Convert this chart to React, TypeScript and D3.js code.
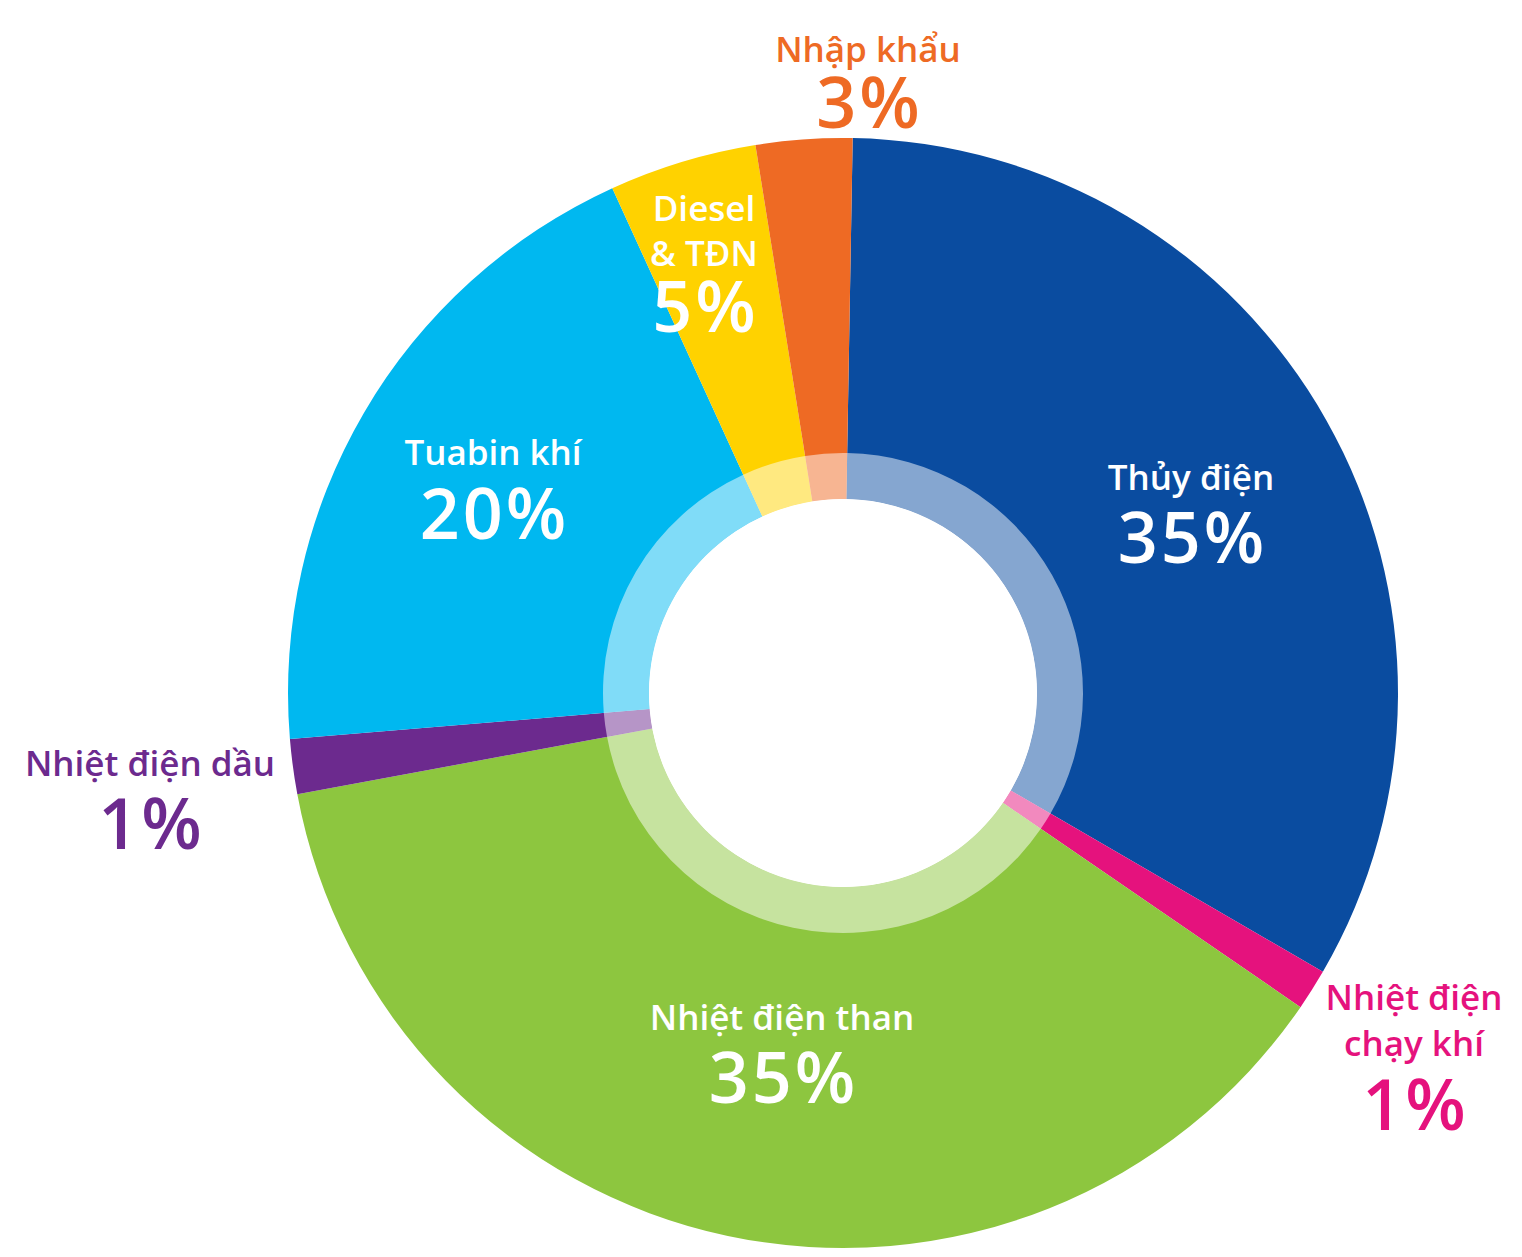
import React from "react";
import * as d3 from "d3";

// ---- Data ----
const categories = [
  "Thủy điện",
  "Nhiệt điện chạy khí",
  "Nhiệt điện than",
  "Nhiệt điện dầu",
  "Tuabin khí",
  "Diesel & TĐN",
  "Nhập khẩu",
];
// shares as drawn (angles)
const shares = [33.1, 1.2, 37.5, 1.6, 19.5, 4.3, 2.8];
// printed percentage labels
const percentLabels = ["35%", "1%", "35%", "1%", "20%", "5%", "3%"];
// label text lines for each category
const nameLines = [
  ["Thủy điện"],
  ["Nhiệt điện", "chạy khí"],
  ["Nhiệt điện than"],
  ["Nhiệt điện dầu"],
  ["Tuabin khí"],
  ["Diesel", "& TĐN"],
  ["Nhập khẩu"],
];

// ---- Styles / layout ----
const W = 1522;
const H = 1257;
const CX = 843;
const CY = 693;
const R_OUTER = 555;
const R_RING = 240;
const R_HOLE = 194;
const START_DEG = 1;

const colors = ["#0a4ca0", "#e5127d", "#8dc63f", "#6c2a8e", "#00b8f0", "#ffd200", "#ee6a24"];
// label colours: white when inside, slice colour when outside
const labelColors = ["#ffffff", "#e5127d", "#ffffff", "#6c2a8e", "#ffffff", "#ffffff", "#ee6a24"];

// label layout: center x, first-line baseline y, line gap, percent baseline y
const labelLayout = [
  { x: 1191, y: 490, gap: 46, py: 563 },
  { x: 1414, y: 1010, gap: 46, py: 1130 },
  { x: 782, y: 1030, gap: 46, py: 1103 },
  { x: 150, y: 776, gap: 46, py: 849 },
  { x: 493, y: 465, gap: 46, py: 539 },
  { x: 704, y: 221, gap: 45, py: 332 },
  { x: 868, y: 62, gap: 46, py: 128 },
];

const FONT = "'Open Sans', 'Noto Sans', sans-serif";
const PCT_SPACING = 3;

export default function App() {
  const pie = d3
    .pie<number>()
    .sort(null)
    .value((d) => d)
    .startAngle((START_DEG * Math.PI) / 180)
    .endAngle((START_DEG * Math.PI) / 180 + 2 * Math.PI);
  const arcs = pie(shares);
  const outerArc = d3.arc<d3.PieArcDatum<number>>().innerRadius(R_HOLE).outerRadius(R_OUTER);
  const ringArc = d3.arc<d3.PieArcDatum<number>>().innerRadius(R_HOLE).outerRadius(R_RING);

  return (
    <div style={{ position: "absolute", left: 0, top: 0, width: W, height: H, background: "#fff" }}>
      <svg width={W} height={H} viewBox={`0 0 ${W} ${H}`} style={{ display: "block" }}>
        <rect width={W} height={H} fill="#ffffff" />
        <g transform={`translate(${CX},${CY})`}>
          {arcs.map((a, i) => (
            <path key={"s" + i} d={outerArc(a) || ""} fill={colors[i]} />
          ))}
          {arcs.map((a, i) => (
            <path key={"r" + i} d={ringArc(a) || ""} fill="#ffffff" fillOpacity={0.5} />
          ))}
          <circle r={R_HOLE} fill="#ffffff" />
        </g>
        {categories.map((c, i) => {
          const L = labelLayout[i];
          return (
            <g key={"l" + i} fill={labelColors[i]} fontFamily={FONT} fontWeight={600} textAnchor="middle">
              {nameLines[i].map((line, j) => (
                <text key={j} x={L.x} y={L.y + j * L.gap} fontSize={35}>
                  {line}
                </text>
              ))}
              <text
                x={L.x + PCT_SPACING / 2}
                y={L.py}
                fontSize={70}
                letterSpacing={PCT_SPACING}
              >
                {percentLabels[i]}
              </text>
            </g>
          );
        })}
      </svg>
    </div>
  );
}
